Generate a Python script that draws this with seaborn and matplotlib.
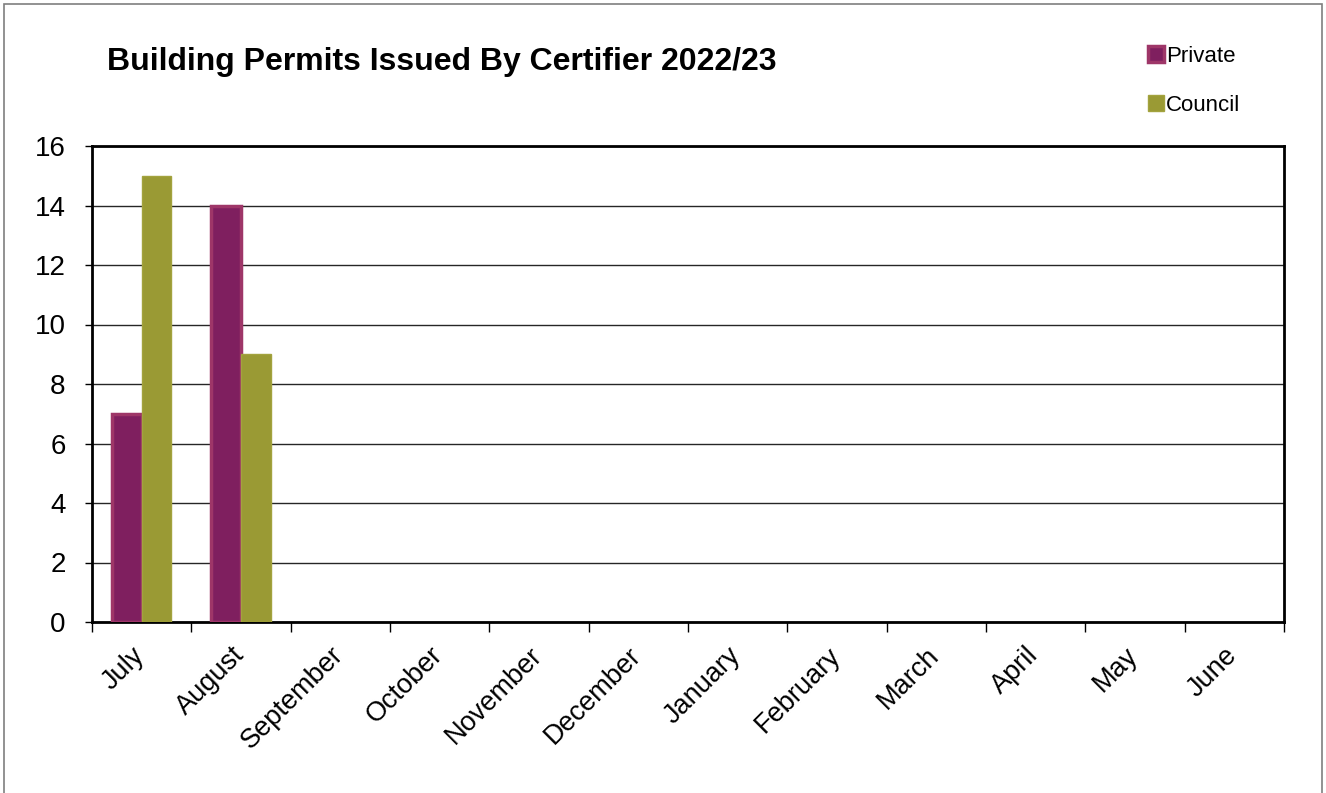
import matplotlib
matplotlib.use("Agg")
import matplotlib.pyplot as plt
import seaborn as sns
import pandas as pd
import numpy as np
from matplotlib.patches import Rectangle
from matplotlib.lines import Line2D
from matplotlib.transforms import ScaledTranslation

months = ["July", "August", "September", "October", "November", "December",
          "January", "February", "March", "April", "May", "June"]
private = [7, 14, 0, 0, 0, 0, 0, 0, 0, 0, 0, 0]
council = [15, 9, 0, 0, 0, 0, 0, 0, 0, 0, 0, 0]
series = ["Private", "Council"]

sns.set_theme(style="white")
plt.rcParams['font.family'] = ['Liberation Sans', 'DejaVu Sans']
plt.rcParams['text.color'] = 'black'
plt.rcParams['xtick.color'] = 'black'
plt.rcParams['ytick.color'] = 'black'

df = pd.DataFrame({
    "month": months * 2,
    "value": private + council,
    "series": ["Private"] * len(months) + ["Council"] * len(months),
})

fig = plt.figure(figsize=(13.26, 7.93), dpi=100)
W, H = 1326, 793
ax = fig.add_axes([92 / W, 1 - 622 / H, (1284 - 92) / W, (622 - 146) / H])

fill = {"Private": "#7F1F5F", "Council": "#9A9A34"}
edge = {"Private": "#9E3668", "Council": "#A3A33E"}

sns.barplot(data=df, x="month", y="value", hue="series", order=months,
            hue_order=series, palette=fill, width=0.6, ax=ax,
            legend=False, saturation=1, errorbar=None)

for cont, s in zip(ax.containers, series):
    for bar in cont:
        bar.set_edgecolor(edge[s])
        if bar.get_height() == 0:
            bar.set_linewidth(0)
        else:
            bar.set_linewidth(2.5 if s == "Private" else 1.0)
        bar.set_zorder(3)

ax.set_ylim(0, 16)
ax.set_xlim(-0.5, len(months) - 0.5)
ax.set_yticks(np.arange(0, 17, 2))
ax.yaxis.grid(True, color="black", linewidth=1.0, alpha=0.85)
ax.set_axisbelow(True)
ax.set_xlabel("")
ax.set_ylabel("")

for sp in ax.spines.values():
    sp.set_visible(True)
    sp.set_color("black")
    sp.set_linewidth(2)

ax.set_xticks(np.arange(len(months)))
ax.set_xticklabels(months, rotation=45, ha="right", rotation_mode="anchor",
                   fontsize=19.5)
ax.set_xticks(np.arange(-0.5, len(months), 1), minor=True)
ax.tick_params(axis="x", which="major", length=0, pad=14.5)
ax.tick_params(axis="x", which="minor", length=7, width=1, color="black",
               direction="out", bottom=True)
ax.tick_params(axis="y", which="major", length=5, width=1, color="black",
               direction="out", left=True, labelsize=20, pad=14)

shift = ScaledTranslation(-10 / 100, 0, fig.dpi_scale_trans)
for lab in ax.get_xticklabels():
    lab.set_transform(lab.get_transform() + shift)

fig.text(107 / W, 1 - 62 / H, "Building Permits Issued By Certifier 2022/23",
         fontsize=23, fontweight="bold", va="center", ha="left")

handles = [
    Line2D([0], [0], marker="s", linestyle="none", markersize=11,
           markerfacecolor=fill["Private"], markeredgecolor=edge["Private"],
           markeredgewidth=2.5),
    Line2D([0], [0], marker="s", linestyle="none", markersize=11,
           markerfacecolor=fill["Council"], markeredgecolor=edge["Council"],
           markeredgewidth=1),
]
fig.legend(handles, series, loc="upper left",
           bbox_to_anchor=(1138 / W, 1 - 35 / H), frameon=False,
           fontsize=16, handlelength=0.6, handletextpad=0.15,
           labelspacing=1.25, borderpad=0)

fig.patches.append(Rectangle((4 / W, -0.05), (1322 - 4) / W, 1 - 4 / H + 0.05,
                             transform=fig.transFigure, fill=False,
                             edgecolor="#7f7f7f", linewidth=1.2))

fig.savefig("out.png", dpi=100)
